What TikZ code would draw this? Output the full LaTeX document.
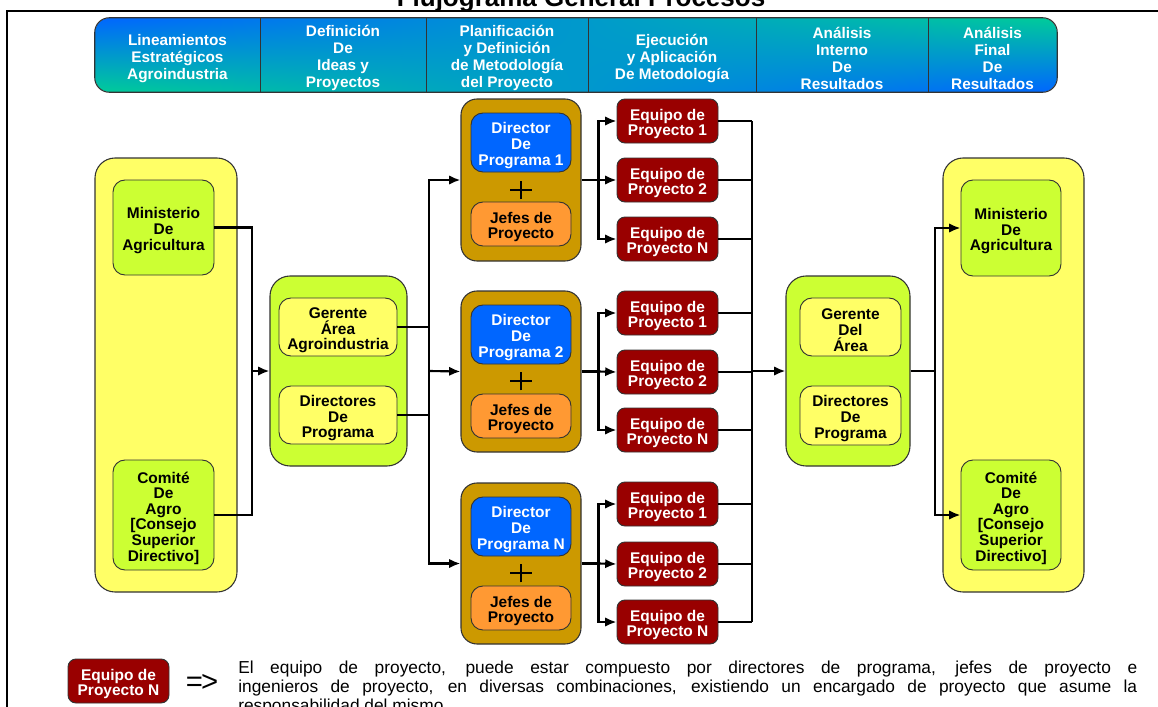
\documentclass[tikz,border=0pt]{standalone}
\usepackage{fontspec}
\setmainfont{Liberation Sans}
\usetikzlibrary{arrows.meta,shadings}
\definecolor{cyel}{HTML}{FFFF66}
\definecolor{clime}{HTML}{CCFF33}
\definecolor{cgold}{HTML}{CC9900}
\definecolor{cblue}{HTML}{0066FF}
\definecolor{corange}{HTML}{FF9933}
\definecolor{cred}{HTML}{990000}
\definecolor{cgreen}{HTML}{00CC99}
\definecolor{cbord}{HTML}{333333}
\newcommand\sh{\rule{0pt}{13pt}}
\begin{document}
\begin{tikzpicture}[x=0.75pt,y=-0.75pt,
  spot/.style n args={4}{minimum width={(#3-#1)*0.75pt}, minimum height={(#4-#2)*0.75pt},
    at={({(#1+#3)/2},{(#2+#4)/2})}},
  container/.style={draw=cbord, line width=0.8pt, rounded corners=15pt, inner sep=0pt},
  progbox/.style={draw=cbord, line width=0.8pt, rounded corners=12pt, inner sep=0pt, fill=cgold},
  box/.style={draw=cbord, line width=0.7pt, rounded corners=9pt, inner sep=0pt, align=center,
    font=\bfseries\fontsize{11.6}{11.7}\selectfont},
  greenbox/.style={box, fill=clime},
  yelbox/.style={box, fill=cyel},
  bluebox/.style={box, fill=cblue, text=white},
  orangebox/.style={box, fill=corange},
  redbox/.style={box, fill=cred, text=white, rounded corners=6pt},
  hcol/.style={inner sep=0pt, align=center, text=white,
    font=\bfseries\fontsize{11.5}{12.75}\selectfont},
  conn/.style={line width=1.6pt, black},
  arr/.style={conn, -{Latex[length=8.5pt,width=7pt]}},
  plussign/.style={line width=1.5pt, black},
  legtext/.style={anchor=base west, inner sep=0pt, font=\fontsize{13}{15}\selectfont}
]
\useasboundingbox (0,0) rectangle (1158,707);

% title and frame
\node[font=\bfseries\fontsize{19.5}{20}\selectfont, anchor=base, inner sep=0pt] (title) at (581,6.5) {Flujograma General Procesos};
\draw[line width=1.5pt] (7,707) -- (7,11) -- (1158,11);

% header band
\shade[upper left=cblue, lower left=cgreen, upper right=cgreen, lower right=cblue, rounded corners=11pt]
  (95,18) rectangle (1057,92);
\node[hcol, spot={95}{18}{260}{92}] (h1) {\sh Lineamientos\\Estratégicos\\Agroindustria};
\node[hcol, spot={260}{18}{426}{92}] (h2) {\sh Definición\\De\\Ideas y\\Proyectos};
\node[hcol, spot={426}{18}{588}{92}] (h3) {\sh Planificación\\y Definición\\de Metodología\\del Proyecto};
\node[hcol, spot={588}{18}{756}{92}] (h4) {\sh Ejecución\\y Aplicación\\De Metodología};
\node[hcol, spot={756}{18}{928}{92}] (h5) {\sh Análisis\\Interno\\De\\Resultados};
\node[hcol, spot={928}{18}{1057}{92}] (h6) {\sh Análisis\\Final\\De\\Resultados};
\draw[cbord, line width=0.8pt, rounded corners=11pt] (h1.north west) rectangle (h6.south east);
\foreach \h in {h1,h2,h3,h4,h5} \draw[cbord, line width=0.8pt] (\h.north east) -- (\h.south east);

% left column
\node[container, fill=cyel, spot={95}{158}{237}{592}] (L) {};
\node[greenbox, spot={113}{180}{214}{275}] (minL) {\sh Ministerio\\De\\Agricultura};
\node[greenbox, spot={113}{460}{214}{570}] (comL) {\sh Comité\\De\\Agro\\{[}Consejo\\Superior\\Directivo{]}};

% gerente column
\node[container, fill=clime, spot={270}{276}{407}{466}] (G) {};
\node[yelbox, spot={279}{298}{397}{356}] (gerL) {\sh Gerente\\Área\\Agroindustria};
\node[yelbox, spot={279}{386}{397}{444}] (dirL) {\sh Directores\\De\\Programa};

% program boxes
\node[progbox, spot={461}{99}{581}{261}] (P1) {};
\node[bluebox, spot={471}{113}{571}{172}] (d1) {\sh Director\\De\\Programa 1};
\node[orangebox, spot={471}{202}{571}{246}] (j1) {\sh Jefes de\\Proyecto};
\coordinate (pl1) at (521,190);

\node[progbox, spot={461}{291}{581}{452}] (P2) {};
\node[bluebox, spot={471}{305}{571}{364}] (d2) {\sh Director\\De\\Programa 2};
\node[orangebox, spot={471}{394}{571}{438}] (j2) {\sh Jefes de\\Proyecto};
\coordinate (pl2) at (521,381);

\node[progbox, spot={461}{483}{581}{644}] (PN) {};
\node[bluebox, spot={471}{497}{571}{556}] (dN) {\sh Director\\De\\Programa N};
\node[orangebox, spot={471}{586}{571}{630}] (jN) {\sh Jefes de\\Proyecto};
\coordinate (plN) at (521,573);

\foreach \p in {pl1,pl2,plN}{
  \draw[plussign] ([xshift=-8pt]\p) -- ([xshift=8pt]\p);
  \draw[plussign] ([yshift=-7pt]\p) -- ([yshift=7pt]\p);
}

% team boxes
\node[redbox, spot={617}{99}{718}{143}] (E11) {\sh Equipo de\\Proyecto 1};
\node[redbox, spot={617}{158}{718}{202}] (E12) {\sh Equipo de\\Proyecto 2};
\node[redbox, spot={617}{217}{718}{261}] (E1N) {\sh Equipo de\\Proyecto N};
\node[redbox, spot={617}{291}{718}{335}] (E21) {\sh Equipo de\\Proyecto 1};
\node[redbox, spot={617}{350}{718}{394}] (E22) {\sh Equipo de\\Proyecto 2};
\node[redbox, spot={617}{408}{718}{452}] (E2N) {\sh Equipo de\\Proyecto N};
\node[redbox, spot={617}{482}{718}{526}] (EN1) {\sh Equipo de\\Proyecto 1};
\node[redbox, spot={617}{542}{718}{586}] (EN2) {\sh Equipo de\\Proyecto 2};
\node[redbox, spot={617}{600}{718}{644}] (ENN) {\sh Equipo de\\Proyecto N};

% right gerente column
\node[container, fill=clime, spot={786}{276}{910}{466}] (G2) {};
\node[yelbox, spot={800}{298}{901}{356}] (gerR) {\sh Gerente\\Del\\Área};
\node[yelbox, spot={800}{386}{901}{445}] (dirR) {\sh Directores\\De\\Programa};

% right column
\node[container, fill=cyel, spot={943}{158}{1084}{592}] (R) {};
\node[greenbox, spot={961}{180}{1061}{276}] (minR) {\sh Ministerio\\De\\Agricultura};
\node[greenbox, spot={961}{460}{1061}{570}] (comR) {\sh Comité\\De\\Agro\\{[}Consejo\\Superior\\Directivo{]}};

% connectors
\coordinate (t1) at (252,371);
\coordinate (t2) at (429,371);
\coordinate (t3) at (752,371);
\coordinate (t4) at (935,371);

\draw[conn] (minL.east) -| (t1) |- (comL.east);
\draw[arr] (t1) -- (G.west);

\draw[conn] (gerL.east) -- (gerL.east -| t2);
\draw[conn] (dirL.east) -- (dirL.east -| t2);
\draw[arr] (t2) |- (P1.west);
\draw[arr] (t2) -- (P2.west);
\draw[arr] (t2) |- (PN.west);

\draw[conn] (P1.east) -- ++(17,0) coordinate (s1);
\draw[conn] (P2.east) -- ++(17,0) coordinate (s2);
\draw[conn] (PN.east) -- ++(17,0) coordinate (sN);
\draw[arr] (s1) |- (E11.west);
\draw[arr] (s1) -- (E12.west);
\draw[arr] (s1) |- (E1N.west);
\draw[arr] (s2) |- (E21.west);
\draw[arr] (s2) -- (E22.west);
\draw[arr] (s2) |- (E2N.west);
\draw[arr] (sN) |- (EN1.west);
\draw[arr] (sN) -- (EN2.west);
\draw[arr] (sN) |- (ENN.west);

\foreach \e in {E11,E12,E1N,E21,E22,E2N,EN1,EN2,ENN}
  \draw[conn] (\e.east) -- (\e.east -| t3);
\draw[conn] (E11.east -| t3) -- (ENN.east -| t3);
\draw[arr] (t3) -- (G2.west);

\draw[conn] (G2.east) -- (t4);
\draw[arr] (t4) |- (minR.west);
\draw[arr] (t4) |- (comR.west);

% legend
\node[redbox, spot={68}{659}{169}{703}] (legbox) {\sh Equipo de\\Proyecto N};
\node[inner sep=0pt, font=\fontsize{22}{22}\selectfont] (impl) at (202,683) {=\kern-1.5pt>};
\node[legtext] (leg1) at (238,673) {\makebox[674.25pt][s]{El equipo de proyecto, puede estar compuesto por directores de programa, jefes de proyecto e}};
\node[legtext] (leg2) at (238,692) {\makebox[674.25pt][s]{ingenieros de proyecto, en diversas combinaciones, existiendo un encargado de proyecto que asume la}};
\node[legtext] (leg3) at (238,711) {responsabilidad del mismo.};
\end{tikzpicture}
\end{document}
